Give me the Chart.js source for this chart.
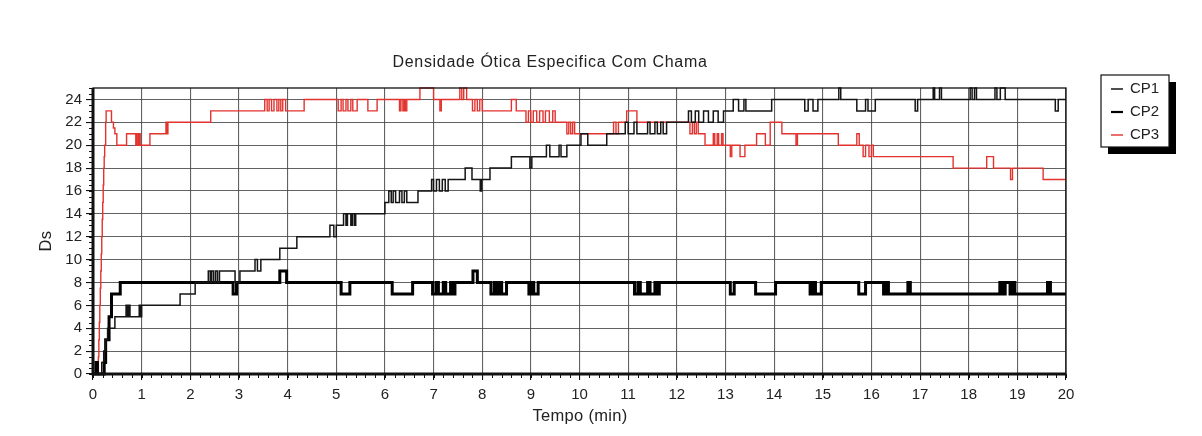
<!DOCTYPE html>
<html lang="pt">
<head>
  <meta charset="UTF-8">
  <title>Densidade Ótica Especifica Com Chama</title>
  <script src="https://cdn.jsdelivr.net/npm/chart.js"></script>
  <style>
    html, body { margin: 0; padding: 0; background: #fff; }
    #wrap { width: 1202px; height: 436px; position: relative; }
  </style>
</head>
<body>
<div id="wrap"><canvas id="dsChart" width="1202" height="436"></canvas></div>
<script>
// tick values
const xTicks = [0,1,2,3,4,5,6,7,8,9,10,11,12,13,14,15,16,17,18,19,20];
const yTicks = [0,2,4,6,8,10,12,14,16,18,20,22,24];

// CP1 (thin black) - change points, value holds until next time
const cp1Time = [0,0.18,0.22,0.26,0.3,0.45,0.68,0.71,0.73,0.76,0.95,0.97,1.0,1.79,2.1,2.37,2.41,2.44,2.48,2.52,2.56,2.6,2.66,2.92,3.02,3.33,3.38,3.45,3.84,4.19,4.87,4.95,5.0,5.15,5.2,5.23,5.3,5.33,5.37,5.4,6.0,6.08,6.13,6.17,6.22,6.3,6.35,6.4,6.45,6.68,6.96,7.0,7.06,7.12,7.18,7.24,7.3,7.65,7.79,7.96,7.99,8.16,8.6,8.98,9.02,9.32,9.39,9.58,9.62,9.74,10.03,10.17,10.56,10.94,11.0,11.12,11.18,11.4,11.45,11.55,11.6,11.67,11.72,11.79,12.24,12.3,12.38,12.45,12.55,12.65,12.75,12.85,12.96,13.16,13.27,13.38,13.42,13.95,14.63,14.7,14.8,14.9,15.33,15.37,15.7,15.88,15.93,16.08,16.9,16.95,17.27,17.3,17.4,17.44,18.03,18.07,18.12,18.16,18.54,18.58,18.65,18.75,19.78,19.84,20];
const cp1Ds   = [0,1,2,3,4,5,6,5,6,5,6,5,6,7,8,9,8,9,8,9,8,9,9,8,9,10,9,10,11,12,13,12,13,14,13,14,13,14,13,14,15,16,15,16,15,16,15,16,15,16,17,16,17,16,17,16,17,18,17,16,17,18,19,18,19,20,19,20,19,20,21,20,21,22,21,22,21,22,21,22,21,22,21,22,23,22,23,22,23,22,23,22,23,24,23,24,23,24,23,24,23,24,25,24,23,24,23,24,23,24,25,24,25,24,25,24,25,24,25,24,25,24,23,24,24];

// CP2 (thick black)
const cp2Time = [0,0.06,0.09,0.2,0.23,0.26,0.33,0.38,0.56,2.88,2.95,3.84,3.98,5.1,5.28,6.15,6.57,6.98,7.05,7.1,7.2,7.25,7.35,7.4,7.44,7.81,7.9,8.18,8.25,8.3,8.35,8.4,8.5,8.96,9.02,9.06,9.15,11.13,11.2,11.25,11.4,11.45,11.55,11.6,11.64,13.1,13.18,13.62,14.03,14.74,14.8,14.85,14.97,15.74,15.88,16.25,16.3,16.35,16.75,16.8,18.64,18.7,18.75,18.85,18.9,18.95,19.62,19.68,20];
const cp2Ds   = [0,1,0,0,1,3,5,7,8,7,8,9,8,7,8,7,8,7,8,7,8,7,8,7,8,9,8,7,8,7,8,7,8,7,8,7,8,7,8,7,8,7,8,7,8,7,8,7,8,7,8,7,8,7,8,7,8,7,8,7,8,7,8,7,8,7,8,7,7];

// CP3 (red)
const cp3Time = [0,0.1,0.11,0.12,0.13,0.14,0.15,0.16,0.17,0.18,0.19,0.2,0.21,0.22,0.23,0.24,0.26,0.27,0.38,0.42,0.45,0.49,0.69,0.88,0.9,0.93,0.95,0.97,1.17,1.5,1.52,1.54,2.42,3.53,3.58,3.62,3.67,3.72,3.78,3.82,3.86,3.9,3.96,4.34,5.04,5.1,5.14,5.2,5.24,5.3,5.34,5.43,5.65,5.84,6.3,6.33,6.37,6.4,6.42,6.45,6.72,7.0,7.13,7.16,7.54,7.58,7.62,7.68,7.8,7.85,7.9,7.95,8.0,8.6,8.7,8.9,8.95,9.0,9.05,9.12,9.18,9.25,9.3,9.38,9.45,9.5,9.74,9.78,9.82,9.86,9.9,10.7,10.75,10.8,10.97,11.18,12.27,12.32,12.36,12.4,12.44,12.58,12.75,12.78,12.83,12.86,12.92,12.95,13.1,13.13,13.3,13.4,13.64,13.82,13.92,14.16,14.45,14.48,15.32,15.7,15.75,15.83,15.88,15.95,16.0,16.04,17.68,18.37,18.51,18.86,18.9,19.53,20];
const cp3Ds   = [0,0,1.5,3,4.5,6,7.5,9,10.5,12,13.5,15,16.5,18,19,20,22,23,22,21.5,21,20,21,20,21,20,21,20,21,22,21,22,23,24,23,24,23,24,23,24,23,24,23,24,23,24,23,24,23,24,23,24,23,24,23,24,23,24,23,24,25,24,23,24,25,24,25,24,23,24,23,24,23,24,23,22,23,22,23,22,23,22,23,22,23,22,21,22,21,22,21,22,21,22,23,22,21,22,21,22,21,20,21,20,21,20,21,20,19,20,19,20,21,20,22,21,20,21,20,21,20,19,20,19,20,19,18,19,18,17,18,17,17];

const fontFam = '"Liberation Sans", Arial, sans-serif';
const gridColor = 'rgba(70,70,70,0.85)';

function toPoints(ts, vs) {
  return ts.map((t, i) => ({ x: t, y: vs[i] }));
}

// frame, minor ticks, title, axis titles, legend box
const decorPlugin = {
  id: 'decor',
  afterDraw(chart) {
    const ctx = chart.ctx;
    const a = chart.chartArea;
    const xs = chart.scales.x, ys = chart.scales.y;
    ctx.save();
    ctx.strokeStyle = '#111';
    // minor ticks
    ctx.lineWidth = 1;
    ctx.beginPath();
    for (let v = 0; v <= 20.001; v += 0.2) {
      const px = Math.round(xs.getPixelForValue(v)) + 0.5;
      ctx.moveTo(px, a.bottom);
      ctx.lineTo(px, a.bottom + 4);
    }
    for (let v = 0; v <= 25.001; v += 0.5) {
      const py = Math.round(ys.getPixelForValue(v)) + 0.5;
      ctx.moveTo(a.left, py);
      ctx.lineTo(a.left - 4, py);
    }
    ctx.stroke();
    // frame
    ctx.lineWidth = 1.3;
    ctx.strokeRect(a.left, a.top, a.right - a.left, a.bottom - a.top);
    ctx.lineWidth = 3;
    ctx.beginPath();
    ctx.moveTo(a.left, a.top);
    ctx.lineTo(a.left, a.bottom);
    ctx.lineTo(a.right, a.bottom);
    ctx.stroke();

    // texts
    ctx.fillStyle = '#222';
    ctx.textAlign = 'center';
    ctx.textBaseline = 'middle';
    ctx.font = '16px ' + fontFam;
    ctx.letterSpacing = '0.7px';
    ctx.fillText('Densidade Ótica Especifica Com Chama', 550, 63);
    ctx.letterSpacing = '0.3px';
    ctx.font = '16.5px ' + fontFam;
    ctx.fillText('Tempo (min)', 580, 416);
    ctx.save();
    ctx.translate(46, 241);
    ctx.rotate(-Math.PI / 2);
    ctx.fillText('Ds', 0, 0);
    ctx.restore();
    ctx.letterSpacing = '0px';

    // legend
    const lx = 1101, ly = 75, lw = 68, lh = 72;
    ctx.fillStyle = '#000';
    ctx.fillRect(lx + 7, ly + 7, lw, lh);
    ctx.fillStyle = '#fff';
    ctx.fillRect(lx, ly, lw, lh);
    ctx.lineWidth = 1.2;
    ctx.strokeStyle = '#111';
    ctx.strokeRect(lx, ly, lw, lh);
    ctx.textAlign = 'left';
    ctx.font = '15px ' + fontFam;
    chart.data.datasets.forEach((ds, i) => {
      const yy = ly + 14 + i * 23;
      ctx.strokeStyle = ds.borderColor;
      ctx.lineWidth = Math.min(ds.borderWidth, 2.2);
      ctx.beginPath();
      ctx.moveTo(lx + 10, yy);
      ctx.lineTo(lx + 22, yy);
      ctx.stroke();
      ctx.fillStyle = '#222';
      ctx.fillText(ds.label, lx + 29, yy);
    });
    ctx.restore();
  }
};

new Chart(document.getElementById('dsChart'), {
  type: 'line',
  data: {
    datasets: [
      { label: 'CP1', data: toPoints(cp1Time, cp1Ds), borderColor: '#151515', borderWidth: 1.5 },
      { label: 'CP2', data: toPoints(cp2Time, cp2Ds), borderColor: '#000000', borderWidth: 3 },
      { label: 'CP3', data: toPoints(cp3Time, cp3Ds), borderColor: '#e3332f', borderWidth: 1.4 }
    ]
  },
  options: {
    responsive: false,
    animation: false,
    layout: { padding: { top: 88, right: 136, bottom: 0, left: 0 } },
    elements: {
      point: { radius: 0 },
      line: { tension: 0, stepped: 'before', fill: false }
    },
    datasets: { line: { clip: 4 } },
    plugins: {
      legend: { display: false },
      title: { display: false },
      tooltip: { enabled: false }
    },
    scales: {
      x: {
        type: 'linear',
        min: 0,
        max: 20,
        afterBuildTicks: s => { s.ticks = xTicks.map(v => ({ value: v })); },
        afterFit: s => { s.height = 62; },
        border: { display: false },
        grid: { color: gridColor, lineWidth: 1.1, tickLength: 6, tickColor: '#111' },
        ticks: { font: { family: fontFam, size: 15 }, color: '#222', padding: 6, maxRotation: 0 }
      },
      y: {
        type: 'linear',
        min: 0,
        max: 25,
        afterBuildTicks: s => { s.ticks = yTicks.map(v => ({ value: v })); },
        afterFit: s => { s.width = 93; },
        border: { display: false },
        grid: { color: gridColor, lineWidth: 1.1, tickLength: 7, tickColor: '#111' },
        ticks: { font: { family: fontFam, size: 15 }, color: '#222', padding: 4 }
      }
    }
  },
  plugins: [decorPlugin]
});
</script>
</body>
</html>
